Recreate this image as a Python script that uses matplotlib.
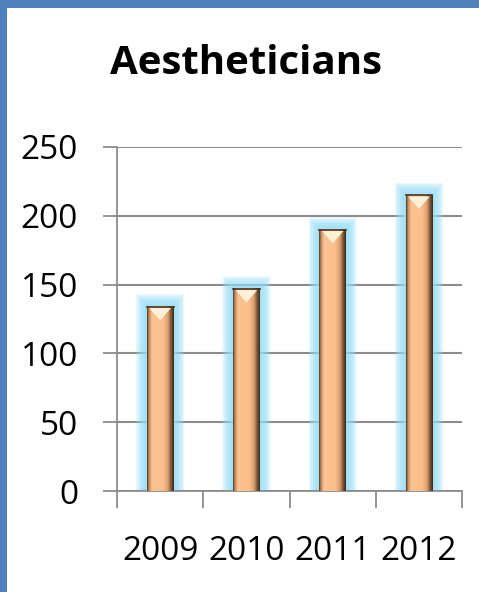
import numpy as np
import matplotlib
matplotlib.use('Agg')
import matplotlib.pyplot as plt
from matplotlib.colors import LinearSegmentedColormap
from matplotlib.patches import Rectangle, Polygon

years = ['2009', '2010', '2011', '2012']
values = [134, 147, 190, 215]
yticks = [0, 50, 100, 150, 200, 250]

plt.rcParams['font.family'] = ['Open Sans', 'DejaVu Sans']

GRID = '#8c8c8c'
BAR_W = 0.31

fig = plt.figure(figsize=(4.79, 5.92), dpi=100)
ax = fig.add_axes([0.2443, 0.1706, 0.7203, 0.5811])

# bar body gradient across the width (bevelled look)
bar_cmap = LinearSegmentedColormap.from_list('bevel', [
    (0.0, '#5c4029'), (0.08, '#c98f62'), (0.18, '#fbc391'),
    (0.6, '#fabf8c'), (0.78, '#dca06f'), (0.9, '#7f573a'), (1.0, '#3f2c1c')])
grad = np.linspace(0, 1, 64).reshape(1, -1)

for i, v in enumerate(values):
    # soft blue glow
    n = 8
    for k in range(n):
        f = (n - k) / n
        w = BAR_W + 0.25 * f
        ax.add_patch(Rectangle((i - w / 2, 0), w, v + 9 * f,
                               facecolor='#92dcf6', edgecolor='none',
                               alpha=0.2, zorder=2, joinstyle='round'))
    ax.imshow(grad, cmap=bar_cmap, aspect='auto', zorder=3,
              extent=(i - BAR_W / 2, i + BAR_W / 2, 0, v))
    # top bevel highlight
    ax.add_patch(Polygon([(i - BAR_W / 2 + 0.03, v - 1), (i + BAR_W / 2 - 0.03, v - 1),
                          (i, v - 10)], closed=True, facecolor='#fff0d8',
                         edgecolor='none', zorder=4))
    ax.plot([i - BAR_W / 2, i + BAR_W / 2], [v, v], color='#4a3422', lw=1.2, zorder=5)

ax.set_xlim(-0.5, 3.5)
ax.set_ylim(0, 250)
ax.set_yticks(yticks)
ax.yaxis.grid(True, color=GRID, lw=1.5, zorder=1)
ax.set_axisbelow(True)

ax.set_xticks(np.arange(-0.5, 4, 1))
ax.set_xticklabels([])
ax.set_xticks(range(len(years)), minor=True)
ax.set_xticklabels(years, minor=True)
ax.tick_params(axis='x', which='major', length=12, width=1.3, color=GRID, direction='out')
ax.tick_params(axis='x', which='minor', length=0, pad=32, labelsize=24)
ax.tick_params(axis='y', length=10, width=1.3, color=GRID, direction='out', pad=18, labelsize=24)

for s in ['top', 'right']:
    ax.spines[s].set_visible(False)
for s in ['left', 'bottom']:
    ax.spines[s].set_color(GRID)
    ax.spines[s].set_linewidth(1.3)

fig.text(0.513, 0.893, 'Aestheticians', ha='center', va='center',
         fontsize=29, fontweight='bold')

# blue frame on left and top
fig.patches.append(Rectangle((0, 0), 7 / 479, 1, transform=fig.transFigure,
                             facecolor='#4f81bd', edgecolor='none'))
fig.patches.append(Rectangle((0, 1 - 8 / 592), 1, 8 / 592, transform=fig.transFigure,
                             facecolor='#4f81bd', edgecolor='none'))

fig.savefig('out.png', dpi=100)
